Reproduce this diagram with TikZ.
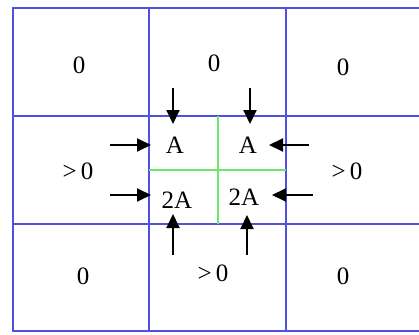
\documentclass[tikz,border=0pt]{standalone}
\usepackage{fontspec}
\setmainfont{Liberation Serif}
\usetikzlibrary{arrows.meta}
\definecolor{gridblue}{RGB}{80,80,225}
\definecolor{gridgreen}{RGB}{110,230,110}
\begin{document}
\begin{tikzpicture}[x=1pt, y=-1pt,
  cell/.style={inner sep=0pt, font=\fontsize{25}{30}\selectfont},
  flow/.style={-{Triangle[length=14pt, width=13pt]}, line width=2pt}]

  \useasboundingbox (0,0) rectangle (419,334);
  \fill[white] (0,0) rectangle (419,334);
  \clip (0,0) rectangle (419,334);

  % -------------------------------------------------------
  % 3x3 grid, right column runs past the picture edge
  % -------------------------------------------------------
  \draw[gridblue, line width=1.4pt] (13,8) rectangle (423,331);
  \draw[gridblue, line width=1.2pt] (149,8) -- (149,331);
  \draw[gridblue, line width=1.2pt] (286,8) -- (286,331);
  \draw[gridblue, line width=1.2pt] (13,116) -- (423,116);
  \draw[gridblue, line width=1.2pt] (13,224) -- (423,224);

  % Centre cell split into four
  \draw[gridgreen, line width=1.2pt] (218,116) -- (218,224);
  \draw[gridgreen, line width=1.2pt] (149,170) -- (286,170);

  % Outer cell values
  \node[cell] (tl) at (79,65)  {0};
  \node[cell] (tc) at (214,63) {0};
  \node[cell] (tr) at (343,67) {0};
  \node[cell] (ml) at (78,171) {\textgreater\,0};
  \node[cell] (mr) at (347,171) {\textgreater\,0};
  \node[cell] (bl) at (83,276) {0};
  \node[cell] (bc) at (213,273) {\textgreater\,0};
  \node[cell] (br) at (343,276) {0};

  % Centre sub-cells
  \node[cell] (a1) at (175,145) {A};
  \node[cell] (a2) at (248,145) {A};
  \node[cell] (b1) at (177,200) {2A};
  \node[cell] (b2) at (244,197) {2A};

  % ---- arrows into the centre cell ----
  \coordinate (n1s) at (173,88);  \coordinate (n1e) at (173,124);
  \coordinate (n2s) at (250,88);  \coordinate (n2e) at (250,124);
  \coordinate (w1s) at (110,145); \coordinate (w1e) at (151,145);
  \coordinate (w2s) at (110,195); \coordinate (w2e) at (151,195);
  \coordinate (e1s) at (309,145); \coordinate (e1e) at (269,145);
  \coordinate (e2s) at (313,195); \coordinate (e2e) at (272,195);
  \coordinate (s1s) at (173,255); \coordinate (s1e) at (173,214);
  \coordinate (s2s) at (247,255); \coordinate (s2e) at (247,215);

  \foreach \p in {n1,n2,w1,w2,e1,e2,s1,s2}
    \draw[flow] (\p s) -- (\p e);

\end{tikzpicture}
\end{document}
